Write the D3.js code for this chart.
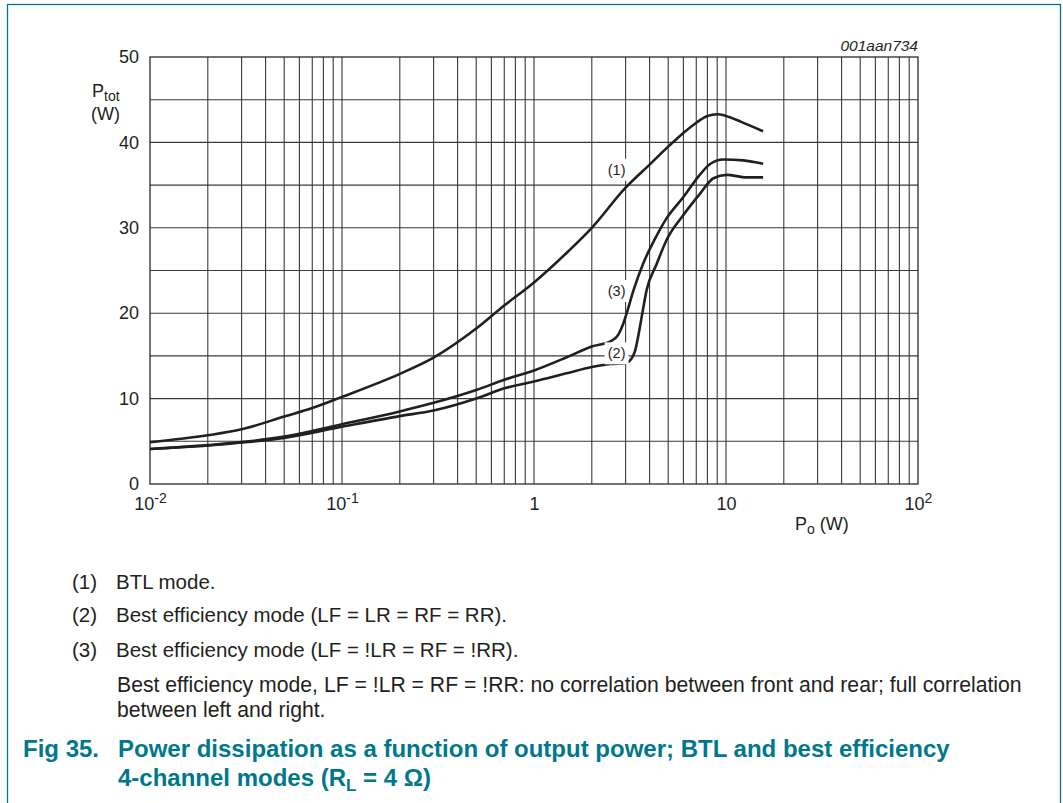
<!DOCTYPE html>
<html><head><meta charset="utf-8">
<script src="https://cdn.jsdelivr.net/npm/d3@7"></script>
<style>
html,body{margin:0;padding:0;background:#fff;}
svg{display:block;font-family:"Liberation Sans",Arial,sans-serif;}
</style></head>
<body><svg id="c" width="1063" height="803"></svg>
<script>
// ---- data ----
const xTickValues = [0.01, 0.1, 1, 10, 100];
const xTickBase = ["10", "10", "1", "10", "10"];
const xTickExp = ["-2", "-1", "", "", "2"];
const yTickValues = [0, 10, 20, 30, 40, 50];

const poBTL   = [0.01,0.02,0.03,0.05,0.07,0.1,0.2,0.3,0.5,0.7,1,1.5,2,3,4,5,6,7,8,9,10,12,15.6];
const ptotBTL = [4.9,5.7,6.4,7.9,8.9,10.2,12.9,14.8,18.2,20.9,23.6,27.2,30.0,34.7,37.4,39.5,41.1,42.3,43.1,43.3,43.1,42.4,41.3];

const poBest2   = [0.01,0.02,0.03,0.05,0.1,0.2,0.3,0.5,0.7,1,1.5,2,2.5,3.0,3.2,3.36,3.49,3.64,3.86,4.36,4.91,6.0,7.33,8.6,10.1,12.8,15.6];
const ptotBest2 = [4.1,4.5,4.85,5.4,6.7,7.95,8.6,10.0,11.2,12.0,13.0,13.7,14.05,14.15,14.6,15.6,17.3,19.6,22.7,25.8,28.6,31.5,34.0,35.8,36.2,35.9,35.9];

const poBest3   = [0.01,0.02,0.03,0.05,0.1,0.2,0.3,0.5,0.7,1,1.5,2,2.5,2.75,2.92,3.04,3.3,3.7,4.2,4.9,6.0,7.3,8.3,9.7,12.3,15.6];
const ptotBest3 = [4.1,4.55,4.9,5.55,7.0,8.5,9.5,11.0,12.2,13.3,14.9,16.1,16.7,17.5,18.8,20.0,22.7,25.8,28.4,31.1,33.6,36.2,37.5,38.0,37.9,37.5];

const curveLabels = ["(1)", "(2)", "(3)"];
const curveLabelPo = [3.0, 3.0, 3.0];
const curveLabelPtot = [36.8, 15.3, 22.6];

const legendItems = ["(1)", "(2)", "(3)"];
const legendTexts = ["BTL mode.", "Best efficiency mode (LF = LR = RF = RR).", "Best efficiency mode (LF = !LR = RF = !RR)."];
const noteLines = ["Best efficiency mode, LF = !LR = RF = !RR: no correlation between front and rear; full correlation", "between left and right."];

// ---- layout ----
const svg = d3.select("#c");
const teal = "#00788c";
const ink = "#231f20";
const L = 150, R = 918, T = 57, B = 484;

svg.append("rect").attr("x",7.5).attr("y",4.5).attr("width",1053).attr("height",900)
  .attr("fill","none").attr("stroke",teal).attr("stroke-width",1.3);

const x = d3.scaleLog().domain([0.01,100]).range([L,R]);
const y = d3.scaleLinear().domain([0,50]).range([B,T]);

// grid
const g = svg.append("g");
const minorX = [];
for (let d=0.01; d<100; d*=10) for (let k=2;k<=9;k++) minorX.push(+(d*k).toPrecision(3));
const allX = minorX.concat(xTickValues.slice(1,4));
g.selectAll("line.vx").data(allX).join("line")
  .attr("x1",d=>x(d)).attr("x2",d=>x(d)).attr("y1",T).attr("y2",B)
  .attr("stroke","#3a3a3a").attr("stroke-width",1.1);
const hY = d3.range(5,50,5);
g.selectAll("line.hy").data(hY).join("line")
  .attr("x1",L).attr("x2",R).attr("y1",d=>y(d)).attr("y2",d=>y(d))
  .attr("stroke","#3a3a3a").attr("stroke-width",1.1);
svg.append("rect").attr("x",L).attr("y",T).attr("width",R-L).attr("height",B-T)
  .attr("fill","none").attr("stroke","#2a2a2a").attr("stroke-width",1.3);

// axes
const ya = svg.append("g").attr("transform",`translate(${L},0)`)
  .call(d3.axisLeft(y).tickValues(yTickValues).tickSize(0).tickPadding(11));
ya.select(".domain").remove();
ya.selectAll("text").attr("font-size",18).attr("fill",ink).attr("font-family","Liberation Sans, Arial, sans-serif");

const xa = svg.append("g").attr("transform",`translate(0,${B})`)
  .call(d3.axisBottom(x).tickValues(xTickValues).tickSize(0).tickPadding(0).tickFormat(()=>""));
xa.select(".domain").remove();
xa.selectAll(".tick text").each(function(d,i){
  const t = d3.select(this).attr("y",26).attr("dy",null).attr("font-size",18).attr("fill",ink)
    .attr("font-family","Liberation Sans, Arial, sans-serif");
  t.append("tspan").text(xTickBase[i]);
  if (xTickExp[i]) t.append("tspan").attr("dy",-7).attr("font-size",14).text(xTickExp[i]);
});

// axis titles
const yt = svg.append("text").attr("x",92).attr("y",97).attr("font-size",18).attr("fill",ink);
yt.append("tspan").text("P");
yt.append("tspan").attr("dy",4).attr("font-size",14).text("tot");
svg.append("text").attr("x",91).attr("y",120).attr("font-size",18).attr("fill",ink).text("(W)");

const xt = svg.append("text").attr("x",795).attr("y",530).attr("font-size",18).attr("fill",ink);
xt.append("tspan").text("P");
xt.append("tspan").attr("dy",4).attr("font-size",14).text("o");
xt.append("tspan").attr("dy",-4).text(" (W)");

svg.append("text").attr("x",918).attr("y",51).attr("text-anchor","end").attr("font-size",15.5)
  .attr("font-style","italic").attr("fill",ink).text("001aan734");

// curves
const line = d3.line().x(d=>x(d[0])).y(d=>y(d[1])).curve(d3.curveMonotoneX);
const series = [d3.zip(poBTL,ptotBTL), d3.zip(poBest2,ptotBest2), d3.zip(poBest3,ptotBest3)];
svg.selectAll("path.curve").data(series).join("path").attr("class","curve")
  .attr("d",line).attr("fill","none").attr("stroke",ink).attr("stroke-width",2.6)
  .attr("stroke-linejoin","round");

// curve labels
curveLabels.forEach((lab,i)=>{
  const cx = x(curveLabelPo[i]) - 9, cy = y(curveLabelPtot[i]);
  svg.append("rect").attr("x",cx-12).attr("y",cy-11).attr("width",24).attr("height",22).attr("fill","#fff");
  svg.append("text").attr("x",cx).attr("y",cy+5).attr("text-anchor","middle").attr("font-size",14.5)
    .attr("fill",ink).text(lab);
});

// legend
const legY = [589, 622, 657];
legendItems.forEach((it,i)=>{
  svg.append("text").attr("x",72).attr("y",legY[i]).attr("font-size",20.5).attr("fill",ink).text(it);
  svg.append("text").attr("x",116).attr("y",legY[i]).attr("font-size",20.5).attr("fill",ink).text(legendTexts[i]);
});
const noteY = [692, 717];
noteLines.forEach((t,i)=>{
  svg.append("text").attr("x",117).attr("y",noteY[i]).attr("font-size",21.2).attr("fill",ink).text(t);
});

// caption
svg.append("text").attr("x",23).attr("y",757).attr("font-size",24).attr("font-weight","bold")
  .attr("fill",teal).text("Fig 35.");
svg.append("text").attr("x",118).attr("y",757).attr("font-size",24).attr("font-weight","bold")
  .attr("fill",teal).text("Power dissipation as a function of output power; BTL and best efficiency");
const cap2 = svg.append("text").attr("x",118).attr("y",786).attr("font-size",24).attr("font-weight","bold").attr("fill",teal);
cap2.append("tspan").text("4-channel modes (R");
cap2.append("tspan").attr("dy",5).attr("font-size",17).text("L");
cap2.append("tspan").attr("dy",-5).text(" = 4 \u03A9)");
</script></body></html>
